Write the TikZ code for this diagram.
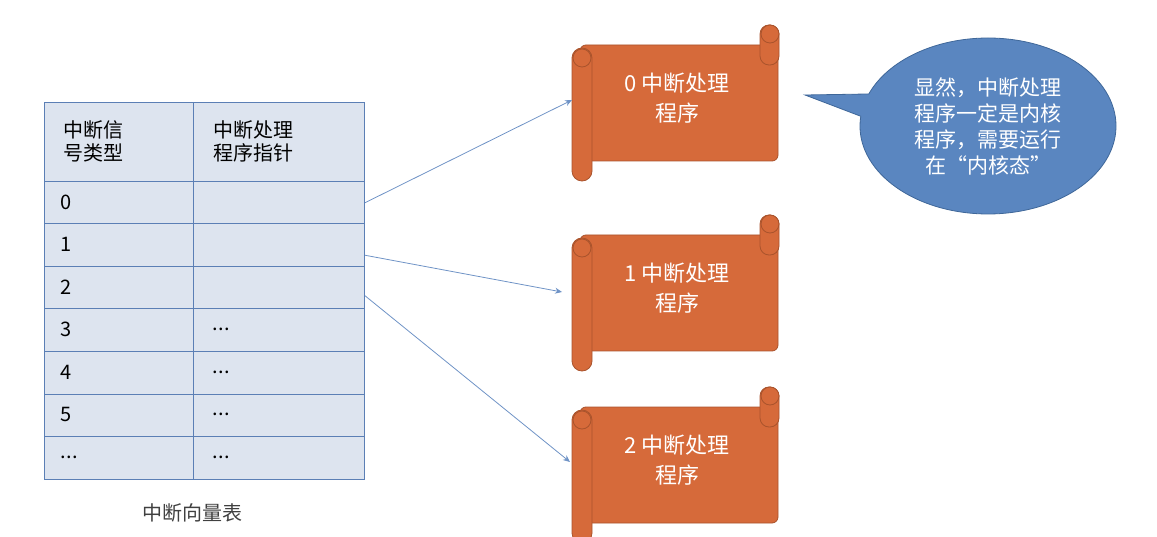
\documentclass[tikz,border=0pt]{standalone}
\usepackage{fontspec}
\setmainfont{Noto Sans CJK SC}
\usetikzlibrary{shapes.callouts,arrows.meta}
\definecolor{cellfill}{HTML}{DDE4EF}
\definecolor{cellline}{HTML}{5B7FB5}
\definecolor{scrollfill}{HTML}{D66A3A}
\definecolor{scrolledge}{HTML}{A9532C}
\definecolor{arrowc}{HTML}{6F93C6}
\definecolor{callfill}{HTML}{5A86C0}
\definecolor{calledge}{HTML}{3F6799}
\newcommand{\mydots}{.\kern0.5pt.\kern0.5pt.}
\tikzset{
  cell/.style={draw=cellline,fill=cellfill,line width=1pt,anchor=north west,inner sep=0pt},
  celltext/.style={anchor=west,font=\fontsize{20}{23}\selectfont,align=left,text=black},
  scrollbody/.style={fill=scrollfill,draw=scrolledge,line width=0.8pt},
  scrolltext/.style={text=white,font=\fontsize{22}{30}\selectfont,align=center},
  link/.style={draw=arrowc,line width=0.8pt,-{Stealth[length=7pt,width=6pt]}}
}
\newcommand{\myscroll}[3]{% #1 name, #2 top y, #3 text
  \begin{scope}[shift={(0,#2)}]
    \path[scrollbody,rounded corners=6pt] (580,2) rectangle (778,118);
    \path[scrollbody,rounded corners=9pt] (760,-18) rectangle (779,22);
    \path[scrollbody] (770,-9) circle (9);
    \path[scrollbody,rounded corners=10pt] (572,5) rectangle (592,138);
    \path[scrollbody] (582,15) circle (9);
    \node[scrolltext] (#1) at (677,55) {#3};
  \end{scope}}
\begin{document}
\begin{tikzpicture}[x=1pt,y=-1pt]
\useasboundingbox (0,0) rectangle (1157,537);
% table
\node[cell,minimum width=149pt,minimum height=79pt] (h1) at (44,102) {};
\node[cell,minimum width=171pt,minimum height=79pt] (h2) at (193,102) {};
\node[celltext] at (60,141) {中断信\\号类型};
\node[celltext] at (210,141) {中断处理\\程序指针};
\foreach \i/\a/\b in {0/0/{},1/1/{},2/2/{},3/3/\mydots,4/4/\mydots,5/5/\mydots,6/\mydots/\mydots}{
  \node[cell,minimum width=149pt,minimum height=42.5pt] (l\i) at (44,{181+42.5*\i}) {};
  \node[cell,minimum width=171pt,minimum height=42.5pt] (r\i) at (193,{181+42.5*\i}) {};
  \node[celltext] at (57,{202+42.5*\i}) {\a};
  \node[celltext] at (209,{202+42.5*\i}) {\b};
}
\node[font=\fontsize{20}{23}\selectfont,text=black!75] (cap) at (192,513) {中断向量表};
% scrolls
\myscroll{s0}{43}{0 中断处理\\程序}
\myscroll{s1}{233}{1 中断处理\\程序}
\myscroll{s2}{405}{2 中断处理\\程序}
\coordinate (e0) at (572,100);
\coordinate (e1) at (562,292);
\coordinate (e2) at (570,462);
\draw[link] (r0.east) -- (e0);
\draw[link] (r1.east) ++(0,10) -- (e1);
\draw[link] (r2.east) ++(0,8) -- (e2);
% callout
\coordinate (tip) at (805,95);
\node[ellipse callout,fill=callfill,draw=calledge,line width=0.8pt,minimum width=256pt,minimum height=176pt,callout absolute pointer={(tip)},text=white,font=\fontsize{21}{26}\selectfont,align=center,inner sep=0pt] (call) at (988,126) {显然，中断处理\\程序一定是内核\\程序，需要运行\\在“内核态”};
\end{tikzpicture}
\end{document}
